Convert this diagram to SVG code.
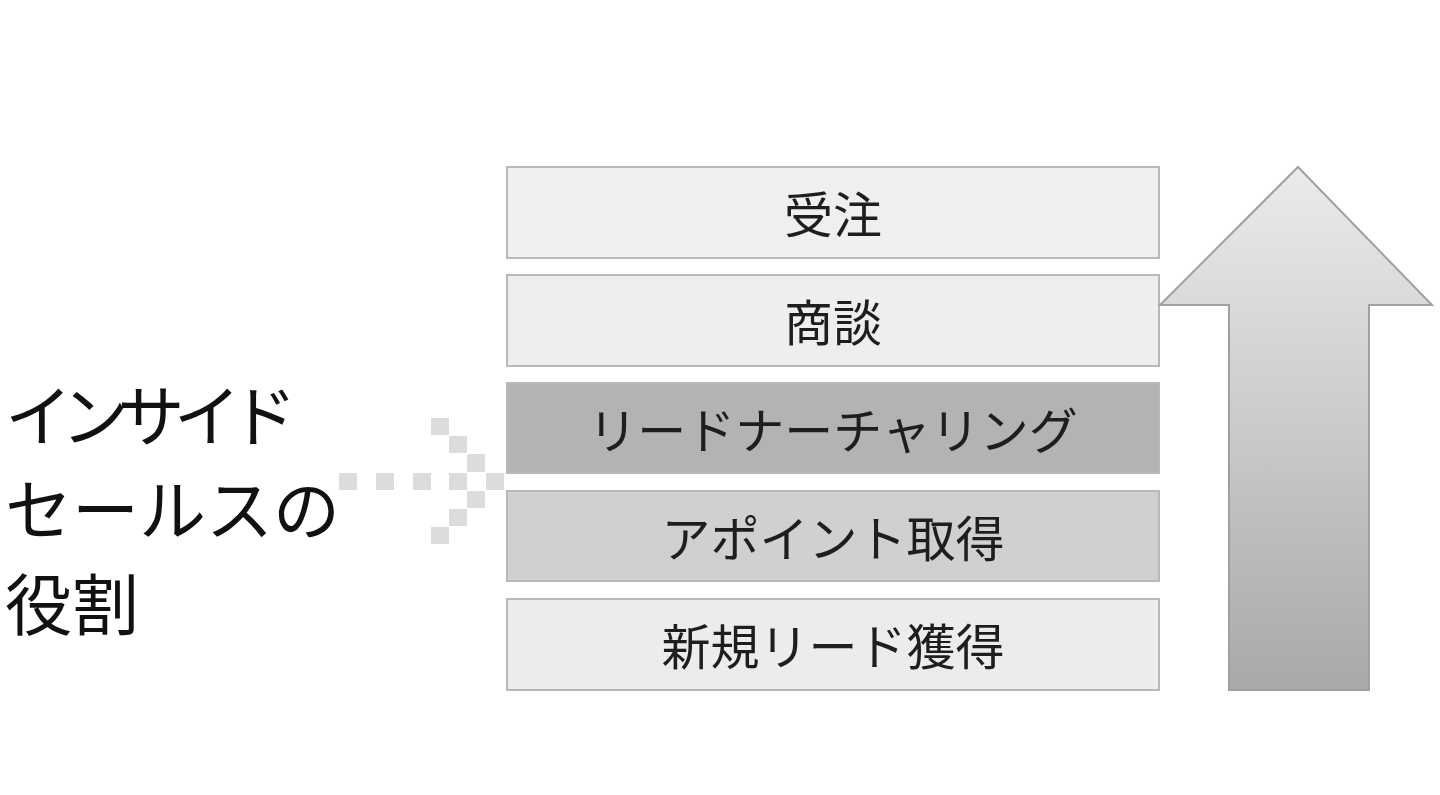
<svg xmlns="http://www.w3.org/2000/svg" width="1440" height="795" viewBox="0 0 1440 795">
<style>
.box{stroke:#b8b8b8;stroke-width:2}
.lbl{font-family:"Noto Sans CJK JP","Noto Sans",sans-serif;font-size:49px;fill:#1e1e1e;text-anchor:middle;dominant-baseline:central}
.side{font-family:"Noto Sans CJK JP","Noto Sans",sans-serif;font-size:67px;fill:#111}
.dot{fill:#dcdcdc}
</style>
<defs>
<linearGradient id="ag" x1="0" y1="0" x2="0" y2="1">
<stop offset="0" stop-color="#ebebeb"/>
<stop offset="1" stop-color="#a9a9a9"/>
</linearGradient>
</defs>
<rect width="1440" height="795" fill="#ffffff"/>
<g id="title">
<text class="side" x="5" y="441" textLength="292" lengthAdjust="spacing">インサイド</text>
<text class="side" x="5" y="535">セールスの</text>
<text class="side" x="5" y="630">役割</text>
</g>
<g id="connectors">
<rect class="dot" x="339" y="473" width="18" height="17"/>
<rect class="dot" x="376" y="473" width="18" height="17"/>
<rect class="dot" x="413" y="473" width="18" height="17"/>
<rect class="dot" x="449" y="473" width="18" height="17"/>
<rect class="dot" x="486" y="473" width="18" height="17"/>
<rect class="dot" x="431" y="418" width="18" height="17"/>
<rect class="dot" x="449" y="436" width="18" height="17"/>
<rect class="dot" x="467" y="454" width="18" height="18"/>
<rect class="dot" x="467" y="491" width="18" height="17"/>
<rect class="dot" x="449" y="509" width="18" height="17"/>
<rect class="dot" x="431" y="527" width="18" height="17"/>
</g>
<g id="n1"><rect class="box" x="507" y="167" width="652" height="91" fill="#efefef"/><text class="lbl" x="833" y="211">受注</text></g>
<g id="n2"><rect class="box" x="507" y="275" width="652" height="91" fill="#eeeeee"/><text class="lbl" x="833" y="319">商談</text></g>
<g id="n3"><rect class="box" x="507" y="383" width="652" height="90" fill="#b3b3b3"/><text class="lbl" x="833" y="427">リードナーチャリング</text></g>
<g id="n4"><rect class="box" x="507" y="491" width="652" height="90" fill="#d0d0d0"/><text class="lbl" x="833" y="535">アポイント取得</text></g>
<g id="n5"><rect class="box" x="507" y="599" width="652" height="91" fill="#ececec"/><text class="lbl" x="833" y="643">新規リード獲得</text></g>
<g id="arrow">
<path d="M1298 167 L1432 305 L1369 305 L1369 690 L1229 690 L1229 305 L1160 305 Z" fill="url(#ag)" stroke="#a0a0a0" stroke-width="2"/>
</g>
</svg>
